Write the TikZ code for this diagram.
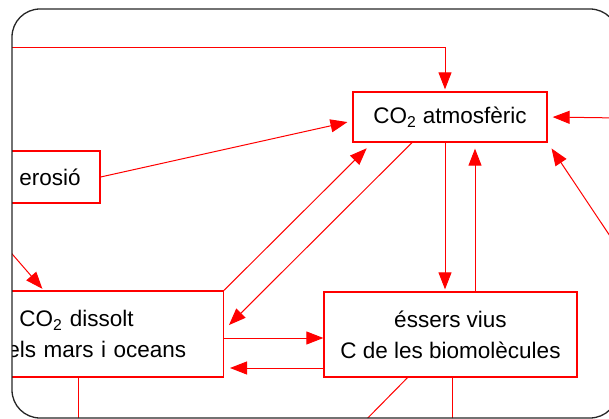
\documentclass[tikz,border=0pt]{standalone}
\usepackage{fontspec}
\setmainfont{Liberation Sans}
\usetikzlibrary{arrows.meta}

\begin{document}
\begin{tikzpicture}[x=1pt,y=-1pt,font=\fontsize{22.5}{31}\selectfont,
        box/.style={draw=red,line width=1.3pt,inner sep=0pt},
        arr/.style={red,line width=1pt,-{Triangle[length=17pt,width=13pt]}},
        link/.style={red,line width=1pt}]
    \useasboundingbox (0,0) rectangle (609,419);
    \begin{scope}
        \clip[rounded corners=28pt] (12,9) rectangle (618,418);
        % boxes
        \node[box,minimum width=194pt,minimum height=50pt] (atm) at (450,117) {CO\textsubscript{2} atmosfèric};
        \node[box,minimum width=100pt,minimum height=52pt] (eros) at (50,177) {erosió};
        \node[box,anchor=east,text width=212pt,inner xsep=4pt,minimum height=86pt,align=left] (diss) at (224,334)
            {\hspace*{12pt}CO\textsubscript{2} dissolt\\els mars i oceans};
        \node[box,minimum width=253pt,minimum height=85pt,align=center] (ess) at (450.5,334.5)
            {éssers vius\\C de les biomolècules};
        % free ends outside the frame
        \coordinate (topin) at (0,48);
        \coordinate (lftin) at (0,240);
        \coordinate (rgtin) at (620,118);
        \coordinate (rlow) at (620,251);
        \coordinate (dbot) at (78,430);
        \coordinate (ebot) at (452,430);
        \coordinate (ebl) at (356,430);
        % connectors
        \draw[arr,shorten >=2pt] (topin) -| ([xshift=-5pt]atm.north);
        \draw[arr,shorten >=5pt] (eros.east) -- ([yshift=-4pt]atm.west);
        \draw[arr,shorten >=2pt] (lftin) -- ([xshift=41pt]diss.north west);
        \draw[arr,shorten >=8pt] (diss.north east) -- ([xshift=20pt]atm.south west);
        \draw[arr,shorten >=7pt] ([xshift=-38pt]atm.south) -- ([yshift=4pt]diss.east);
        \draw[arr,shorten >=2pt] ([xshift=-5pt]atm.south) -- ([xshift=-5pt]atm.south |- ess.north);
        \draw[arr,shorten >=6pt] ([xshift=25pt]atm.south |- ess.north) -- ([xshift=25pt]atm.south);
        \draw[arr] ([yshift=-4pt]diss.east) -- ([yshift=-4pt]diss.east -| ess.west);
        \draw[arr,shorten >=6pt] ([yshift=-34pt]diss.east -| ess.west) -- ([yshift=-34pt]diss.east);
        \draw[arr,shorten >=5pt] (rgtin) -- (atm.east);
        \draw[arr,shorten >=7pt] (rlow) -- (atm.south east);
        \draw[link] (dbot |- diss.south) -- (dbot);
        \draw[link] (ebot |- ess.south) -- (ebot);
        \draw[link] ([xshift=-43pt]ess.south) -- (ebl);
    \end{scope}
    % frame
    \draw[black!85,line width=1.3pt,rounded corners=28pt] (12,9) rectangle (618,418);
\end{tikzpicture}
\end{document}
